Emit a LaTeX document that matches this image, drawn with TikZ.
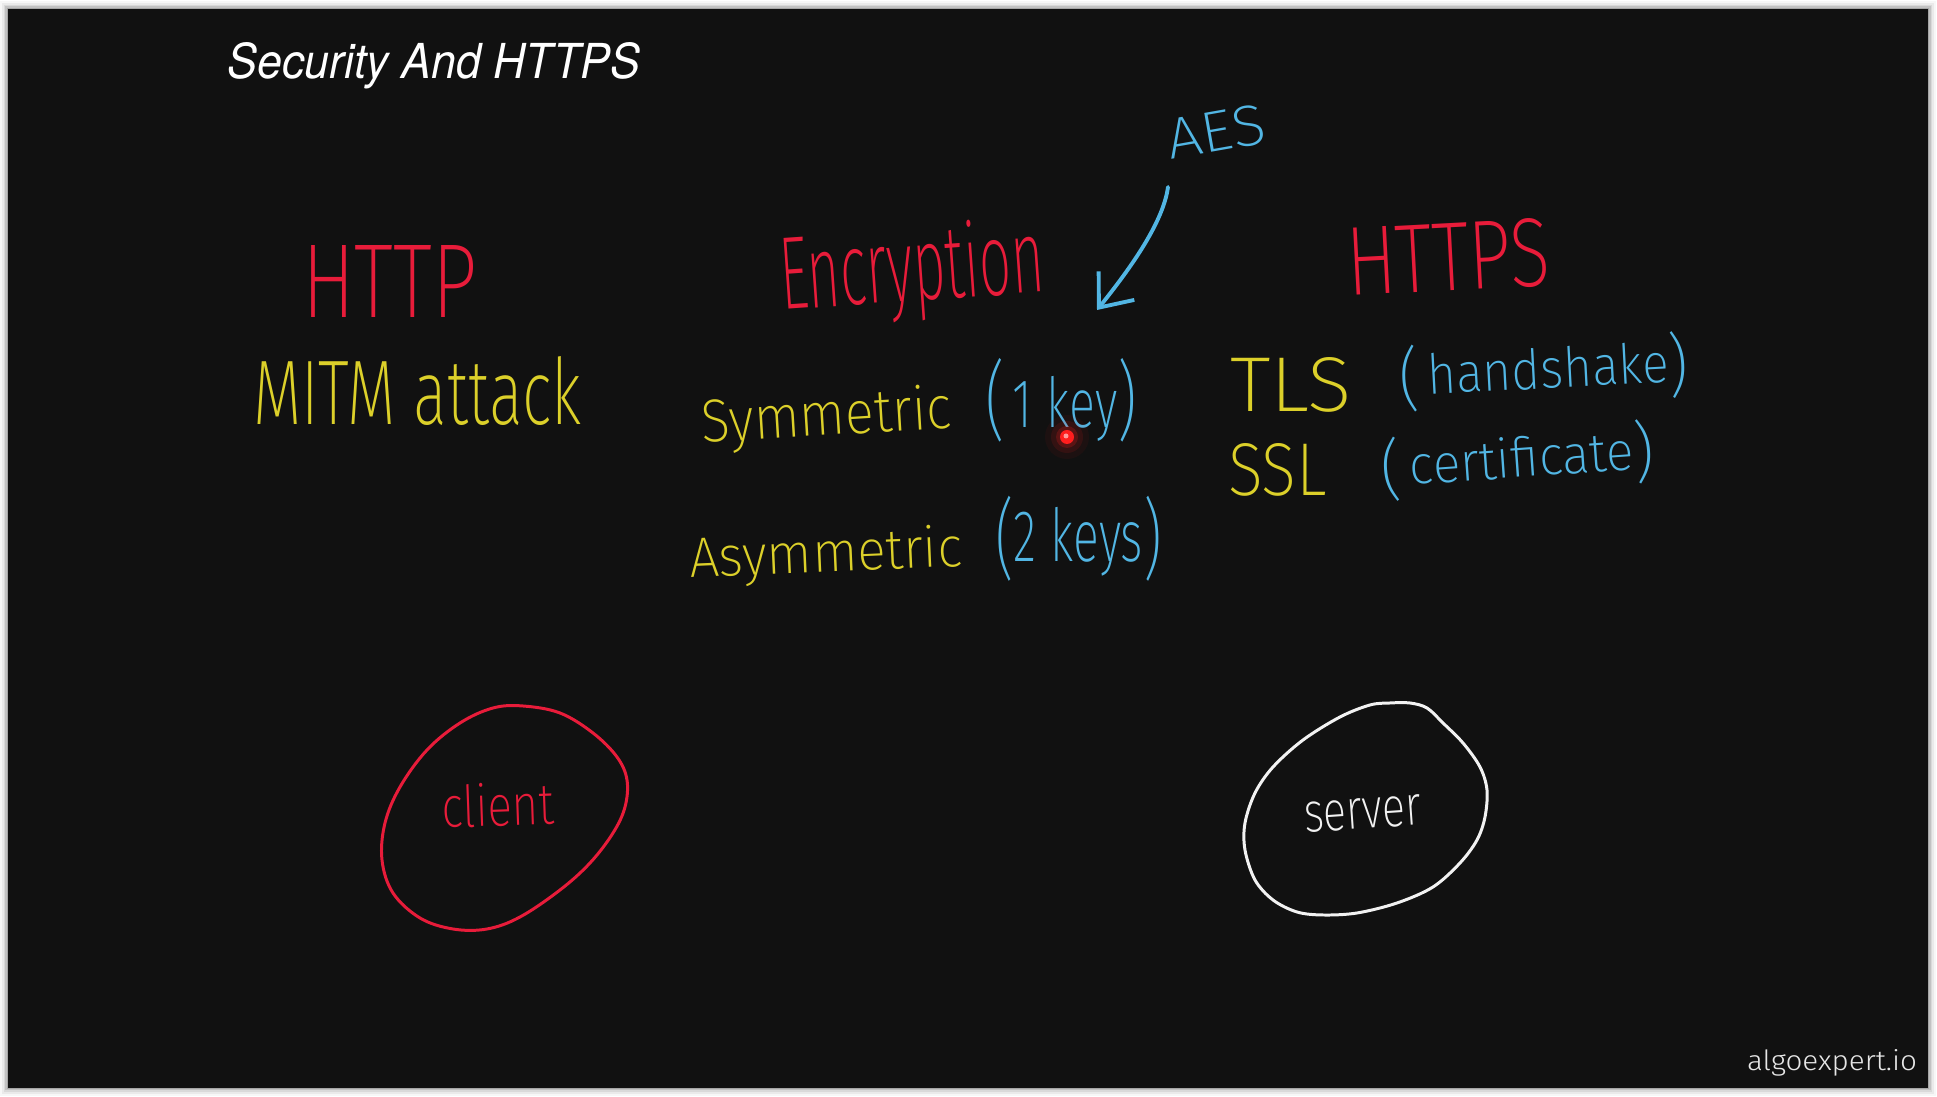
\documentclass[tikz,border=0pt]{standalone}
\usepackage{fontspec}
\usepackage{graphicx}
\usetikzlibrary{arrows.meta}

% thinnest installed Fira weight for the marker lettering
\IfFontExistsTF{Fira Sans ExtraLight}
  {\newfontfamily\handfont{Fira Sans ExtraLight}}
  {\IfFontExistsTF{Fira Sans Extra Light}
     {\newfontfamily\handfont{Fira Sans Extra Light}}
     {\newfontfamily\handfont{Fira Sans Light}}}
\newfontfamily\brandfont{Fira Sans Light}
\newfontfamily\titlefont{TeX Gyre Heros}

% one drawing unit = one pixel = 0.1mm
\newdimen\pxu \pxu=0.1mm
\newcommand\fitted[3]{\resizebox{#1\pxu}{#2\pxu}{#3}}
% tall hand-drawn brackets: #1 = scale, #2 = drop below the baseline (em)
\newcommand\lpar[2]{\raisebox{-#2em}{\scalebox{#1}{(}}}
\newcommand\rpar[2]{\raisebox{-#2em}{\scalebox{#1}{)}}}

\definecolor{board}{RGB}{17,17,17}
\definecolor{inkred}{RGB}{232,28,58}
\definecolor{inkyellow}{RGB}{220,208,42}
\definecolor{inkblue}{RGB}{82,182,228}
\definecolor{inkwhite}{RGB}{242,242,242}
\definecolor{laser}{RGB}{255,30,30}

\tikzset{
  ink/.style={anchor=base west, inner sep=0pt, outer sep=0pt},
  stroke/.style={line width=0.85pt, line join=round, line cap=round},
  pointer/.style={stroke, line width=1.1pt, -{Straight Barb[length=8pt,width=13pt,line width=1.1pt]}},
}

\begin{document}
\begin{tikzpicture}[x=0.1mm, y=-0.1mm]
  \useasboundingbox (0,0) rectangle (1937,1097);
  % page and board
  \fill[white] (0,0) rectangle (1937,1097);
  \foreach \d/\o in {8/0.03,6/0.05,4/0.07,2.5/0.1,1.2/0.15}
    \fill[black, opacity=\o] (8-\d,9-\d) rectangle (1928+\d,1088+\d);
  \fill[board] (8,9) rectangle (1928,1088);

  % heading and footer
  \node[ink, text=white] (title) at (228,79)
    {\fitted{412}{36}{\titlefont\itshape Security And HTTPS}};
  \node[ink, text=inkwhite!90!gray] (brand) at (1747,1071)
    {\fitted{170}{21}{\brandfont algoexpert.io}};

  % HTTP column
  \node[ink, text=inkred] (http) at (302,318) {\fitted{175}{72}{\handfont HTTP}};
  \node[ink, text=inkyellow] (mitm) at (253,425) {\fitted{329}{68}{\handfont MITM attack}};

  % encryption column
  \node[ink, text=inkred, rotate=4] (enc) at (782,310) {\fitted{265}{77}{\handfont Encryption}};
  \node[ink, text=inkblue, rotate=10] (aes) at (1170,160) {\fitted{100}{40}{\handfont AES}};
  \coordinate (aesTail) at (1168,187);
  \coordinate (aesTip) at (1097,310);
  \draw[pointer, inkblue] (aesTail) .. controls (1163,225) and (1125,275) .. (aesTip);

  \node[ink, text=inkyellow, rotate=3.5] (sym) at (702,443) {\fitted{251}{45}{\handfont Symmetric}};
  \node[ink, text=inkblue] (symkey) at (985,428)
    {\fitted{152}{70}{\handfont\lpar{1.25}{0.03}\,1 key\rpar{1.25}{0.03}}};
  \node[ink, text=inkyellow, rotate=2.5] (asym) at (690,578) {\fitted{273}{42}{\handfont Asymmetric}};
  \node[ink, text=inkblue] (asymkey) at (995,562)
    {\fitted{167}{66}{\handfont\lpar{1.2}{0.1}2 keys\rpar{1.2}{0.1}}};

  % laser pointer dot
  \foreach \r/\o in {22/0.05,16/0.1,11/0.2}
    \fill[laser, opacity=\o] (1067,437) circle[radius=\r];
  \fill[laser] (1067,437) circle[radius=7];
  \fill[red!40!white] (1066,436) circle[radius=2.5];

  % HTTPS column
  \node[ink, text=inkred, rotate=3] (https) at (1348,296) {\fitted{204}{68}{\handfont HTTPS}};
  \node[ink, text=inkyellow] (tls) at (1230,412) {\fitted{122}{54}{\handfont TLS}};
  \node[ink, text=inkblue, rotate=3] (hand) at (1400,396)
    {\fitted{290}{50}{\handfont\lpar{1.25}{0.14}\,handshake\rpar{1.25}{0.14}}};
  \node[ink, text=inkyellow] (ssl) at (1228,496) {\fitted{99}{52}{\handfont SSL}};
  \node[ink, text=inkblue, rotate=4] (cert) at (1382,487)
    {\fitted{274}{49}{\handfont\lpar{1.22}{0.12}\,certificate\rpar{1.22}{0.12}}};

  % client
  \node[ink, text=inkred, rotate=2] (client) at (442,828) {\fitted{113}{43}{\handfont client}};
  \draw[stroke, inkred] plot[smooth cycle, tension=0.6] coordinates {
    (523,706) (560,713) (593,733) (617,757) (627,780) (625,807) (613,833)
    (590,863) (560,890) (520,917) (487,929) (453,929) (420,918) (393,893)
    (382,860) (385,823) (400,787) (427,750) (460,723) (493,708)};

  % server
  \node[ink, text=inkwhite, rotate=4] (server) at (1305,833) {\fitted{118}{30}{\handfont server}};
  \draw[stroke, inkwhite] plot[smooth cycle, tension=0.55] coordinates {
    (1390,703) (1410,703) (1427,708) (1443,723) (1463,743) (1480,767)
    (1487,790) (1485,817) (1477,840) (1460,863) (1433,887) (1397,903)
    (1357,913) (1323,915) (1297,912) (1273,900) (1255,880) (1245,850)
    (1245,823) (1255,793) (1273,767) (1303,740) (1340,717) (1370,705)};
\end{tikzpicture}
\end{document}
